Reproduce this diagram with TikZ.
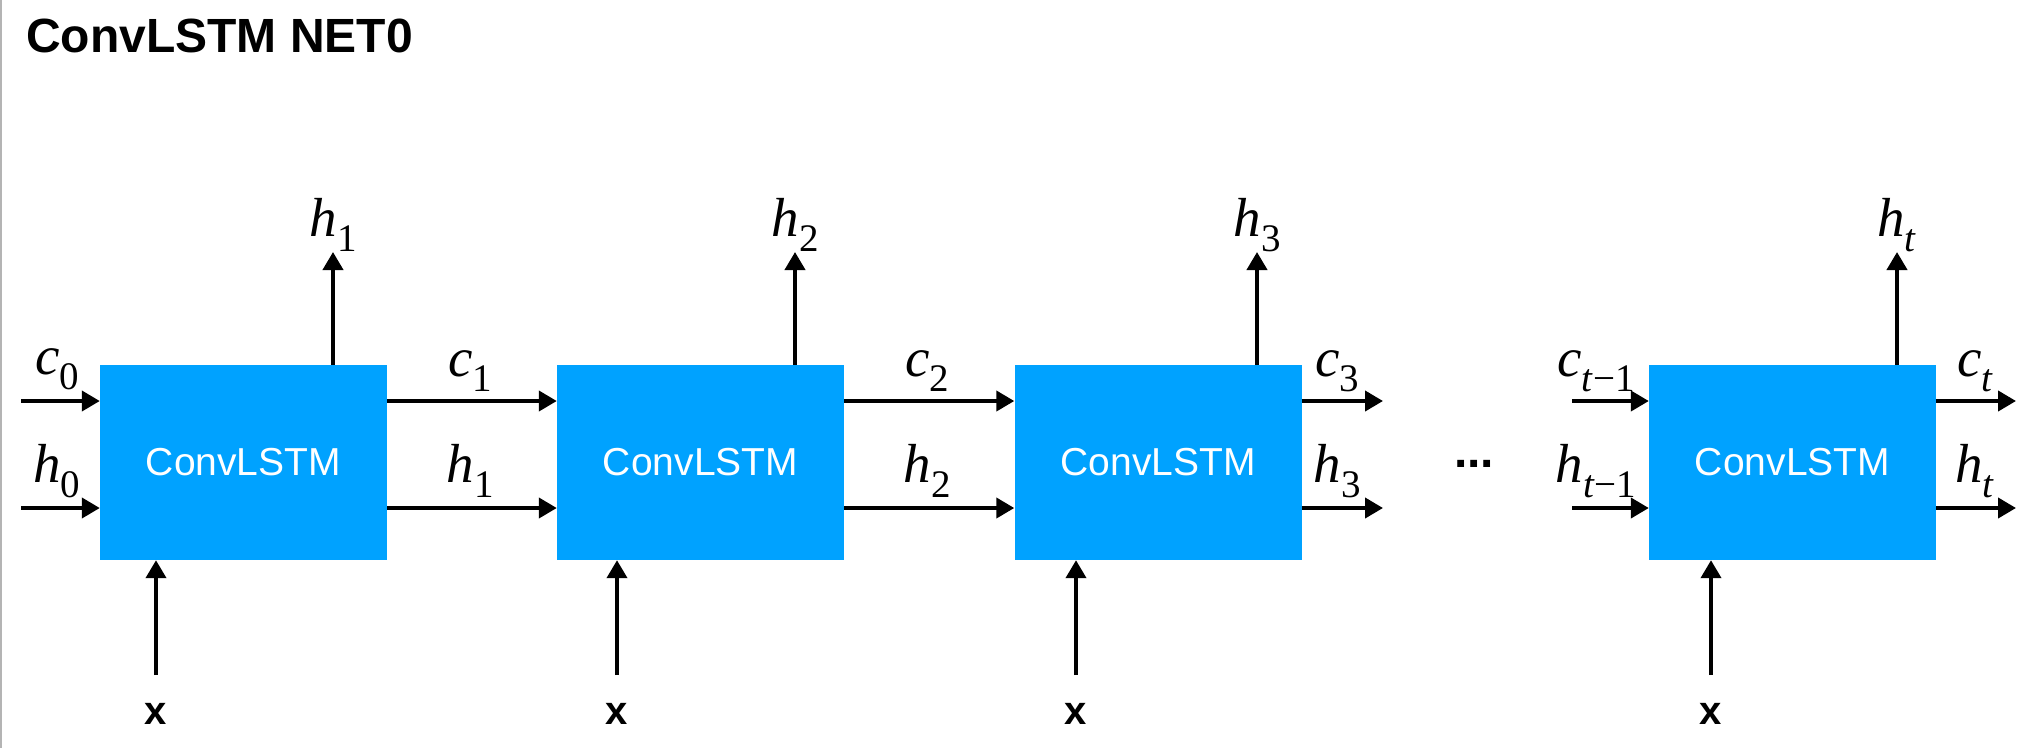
\documentclass[tikz,border=0pt]{standalone}
\usepackage{fontspec}
\setmainfont{Liberation Sans}
\newfontfamily\seriflab{Liberation Serif}
\usetikzlibrary{arrows.meta}
\definecolor{boxblue}{RGB}{0,162,255}
\definecolor{edgegray}{RGB}{180,180,180}
\newcommand\lab[2]{{\seriflab\fontsize{55}{55}\selectfont\textit{#1}\raisebox{-0.28em}{\fontsize{39}{39}\selectfont #2}}}
\begin{document}
\begin{tikzpicture}[x=1pt,y=-1pt,
  cell/.style={fill=boxblue, minimum width=287pt, minimum height=195pt, inner sep=0pt,
    text=white, font=\fontsize{39}{39}\selectfont},
  arr/.style={-{Triangle[length=18pt,width=20pt]}, line width=4pt},
  lbl/.style={anchor=base, inner sep=0pt},
  xin/.style={anchor=base, inner sep=0pt, font=\bfseries\fontsize{40}{40}\selectfont}]
\useasboundingbox (0,0) rectangle (2042,748);
\fill[edgegray] (0,0) rectangle (2,748);
\node[anchor=base west, inner sep=0pt, font=\bfseries\fontsize{48}{48}\selectfont] (title) at (26,52) {ConvLSTM NET0};

% cells
\node[cell] (b1) at (243.5,462.5) {ConvLSTM};
\node[cell] (b2) at (700.5,462.5) {ConvLSTM};
\node[cell] (b3) at (1158,462.5) {ConvLSTM};
\node[cell] (b4) at (1792.5,462.5) {ConvLSTM};

\coordinate (yc) at (0,401);
\coordinate (yh) at (0,508);

% inputs of first cell
\coordinate (ic1) at (21,401);
\coordinate (ih1) at (21,508);
\draw[arr] (ic1) -- (b1.west |- yc);
\draw[arr] (ih1) -- (b1.west |- yh);
\node[lbl] (lc0) at (57,374) {\lab{c}{0}};
\node[lbl] (lh0) at (57,482) {\lab{h}{0}};

% between cells
\draw[arr] (b1.east |- yc) -- (b2.west |- yc);
\draw[arr] (b1.east |- yh) -- (b2.west |- yh);
\node[lbl] (lc1) at (470,376) {\lab{c}{1}};
\node[lbl] (lh1) at (470,482) {\lab{h}{1}};
\draw[arr] (b2.east |- yc) -- (b3.west |- yc);
\draw[arr] (b2.east |- yh) -- (b3.west |- yh);
\node[lbl] (lc2) at (927,376) {\lab{c}{2}};
\node[lbl] (lh2) at (927,482) {\lab{h}{2}};

% outputs of third cell
\coordinate (oc3) at (1383,401);
\coordinate (oh3) at (1383,508);
\draw[arr] (b3.east |- yc) -- (oc3);
\draw[arr] (b3.east |- yh) -- (oh3);
\node[lbl] (lc3) at (1337,376) {\lab{c}{3}};
\node[lbl] (lh3) at (1337,482) {\lab{h}{3}};

% dots
\node[anchor=base, inner sep=0pt, font=\bfseries\fontsize{48}{48}\selectfont] (dots) at (1474,467) {...};

% last cell
\coordinate (ic4) at (1572,401);
\coordinate (ih4) at (1572,508);
\draw[arr] (ic4) -- (b4.west |- yc);
\draw[arr] (ih4) -- (b4.west |- yh);
\node[lbl] (lct1) at (1596,376) {\lab{c}{\textit{t}−1}};
\node[lbl] (lht1) at (1596,482) {\lab{h}{\textit{t}−1}};
\coordinate (oc4) at (2016,401);
\coordinate (oh4) at (2016,508);
\draw[arr] (b4.east |- yc) -- (oc4);
\draw[arr] (b4.east |- yh) -- (oh4);
\node[lbl] (lct) at (1975,376) {\lab{c}{\textit{t}}};
\node[lbl] (lht) at (1975,482) {\lab{h}{\textit{t}}};

% upward outputs
\coordinate (u1) at (333,252);
\coordinate (u2) at (795,252);
\coordinate (u3) at (1257,252);
\coordinate (u4) at (1897,252);
\draw[arr] (u1 |- b1.north) -- (u1);
\draw[arr] (u2 |- b2.north) -- (u2);
\draw[arr] (u3 |- b3.north) -- (u3);
\draw[arr] (u4 |- b4.north) -- (u4);
\node[lbl] (th1) at (333,236) {\lab{h}{1}};
\node[lbl] (th2) at (795,236) {\lab{h}{2}};
\node[lbl] (th3) at (1257,236) {\lab{h}{3}};
\node[lbl] (th4) at (1897,236) {\lab{h}{\textit{t}}};

% x inputs
\node[xin] (x1) at (156,724) {x};
\node[xin] (x2) at (617,724) {x};
\node[xin] (x3) at (1076,724) {x};
\node[xin] (x4) at (1711,724) {x};
\coordinate (xs1) at (156,675);
\coordinate (xs2) at (617,675);
\coordinate (xs3) at (1076,675);
\coordinate (xs4) at (1711,675);
\draw[arr] (xs1) -- (xs1 |- b1.south);
\draw[arr] (xs2) -- (xs2 |- b2.south);
\draw[arr] (xs3) -- (xs3 |- b3.south);
\draw[arr] (xs4) -- (xs4 |- b4.south);
\end{tikzpicture}
\end{document}
